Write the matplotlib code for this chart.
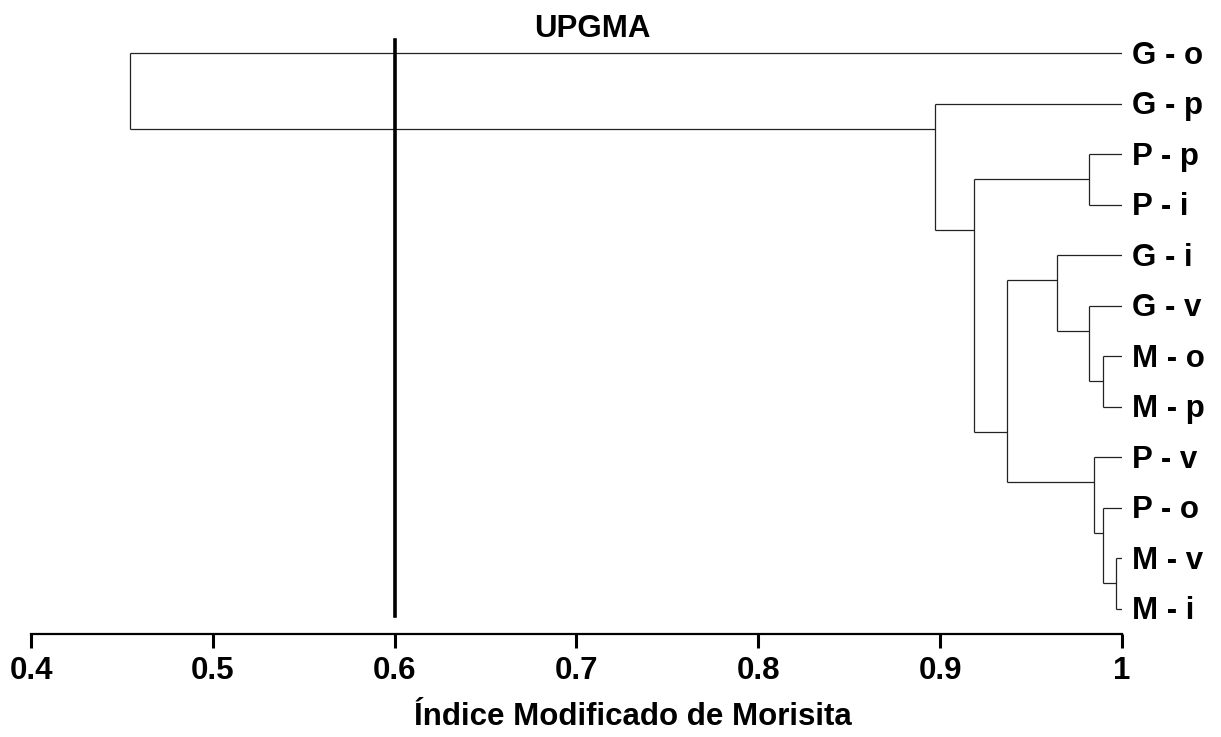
import matplotlib
matplotlib.use('Agg')
import matplotlib.pyplot as plt

# ---- data ----
leaf_labels = ['G - o', 'G - p', 'P - p', 'P - i', 'G - i', 'G - v',
               'M - o', 'M - p', 'P - v', 'P - o', 'M - v', 'M - i']
# merges (scipy-like): node ids 0..11 are leaves, merges create ids 12..22
merge_a = [10, 6, 9, 2, 5, 8, 4, 18, 15, 1, 0]
merge_b = [11, 7, 12, 3, 13, 14, 16, 17, 19, 20, 21]
merge_height = [0.9967, 0.9897, 0.9897, 0.9820, 0.9820, 0.9848,
                0.9644, 0.9366, 0.9186, 0.8970, 0.4544]
leaf_height = 1.0
threshold = 0.6
xticks = [0.4, 0.5, 0.6, 0.7, 0.8, 0.9, 1.0]
xtick_labels = ['0.4', '0.5', '0.6', '0.7', '0.8', '0.9', '1']
title = 'UPGMA'
xlabel = 'Índice Modificado de Morisita'

plt.rcParams['font.family'] = ['Liberation Sans', 'DejaVu Sans']

W, H = 1221, 737
fig = plt.figure(figsize=(W / 100, H / 100), dpi=100)
ax_left, ax_right, ax_top, ax_bottom = 31, 1122, 0, 634
ax = fig.add_axes([ax_left / W, (H - ax_bottom) / H,
                   (ax_right - ax_left) / W, (ax_bottom - ax_top) / H])

leaf_y0, leaf_dy = 53, 50.5


def idx(py):
    return (py - leaf_y0) / leaf_dy


ax.set_xlim(0.4, 1.0)
ax.set_ylim(idx(ax_bottom), idx(ax_top))

# ---- build tree geometry ----
n = len(leaf_labels)
node_x = {i: leaf_height for i in range(n)}
node_y = {i: float(i) for i in range(n)}
node_min = {i: i for i in range(n)}
node_max = {i: i for i in range(n)}

line_kw = dict(color='#222222', lw=0.9, solid_capstyle='butt')
for k, (a, b, h) in enumerate(zip(merge_a, merge_b, merge_height)):
    nid = n + k
    # horizontal links from children to the merge height
    ax.plot([node_x[a], h], [node_y[a], node_y[a]], **line_kw)
    ax.plot([node_x[b], h], [node_y[b], node_y[b]], **line_kw)
    # vertical connector
    ax.plot([h, h], [node_y[a], node_y[b]], **line_kw)
    node_x[nid] = h
    node_min[nid] = min(node_min[a], node_min[b])
    node_max[nid] = max(node_max[a], node_max[b])
    # link position: between last leaf of first child and first leaf of second
    node_y[nid] = (node_max[a] + node_min[b]) / 2.0

# threshold line
ax.axvline(threshold, ymin=(ax_bottom - 616) / (ax_bottom - ax_top),
           ymax=(ax_bottom - 40) / (ax_bottom - ax_top), color='black', lw=2.6)

FS = 22.5
# leaf labels
for i, lab in enumerate(leaf_labels):
    ax.annotate(lab, xy=(leaf_height, i), xytext=(7.5, -7.8),
                textcoords='offset points', ha='left', va='baseline',
                fontsize=FS, fontweight='bold', annotation_clip=False)

# title
ax.text(0.709, idx(37), title, ha='center', va='baseline',
        fontsize=FS, fontweight='bold')

# axes styling
for s in ['left', 'top', 'right']:
    ax.spines[s].set_visible(False)
ax.spines['bottom'].set_linewidth(1.6)
ax.set_yticks([])
ax.set_xticks(xticks)
ax.set_xticklabels(xtick_labels, fontsize=FS, fontweight='bold')
ax.tick_params(axis='x', direction='out', length=10, width=2.2, pad=6)

fig.text(632.5 / W, (H - 725) / H, xlabel, ha='center', va='baseline',
         fontsize=FS, fontweight='bold')

fig.savefig('out.png', dpi=100)
